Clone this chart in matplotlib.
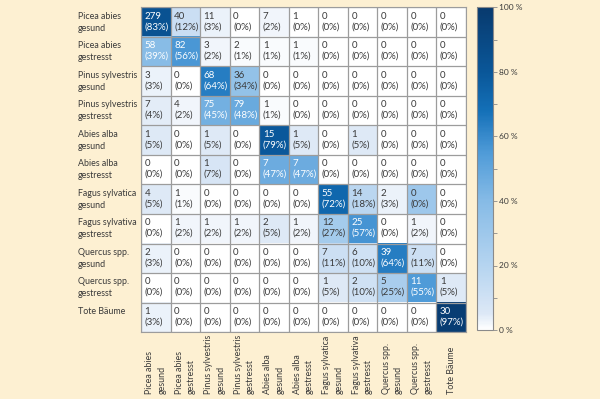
import numpy as np
import matplotlib
matplotlib.use("Agg")
import matplotlib.pyplot as plt
from matplotlib.colors import LinearSegmentedColormap
from matplotlib.transforms import blended_transform_factory


labels = [
    "Picea abies\ngesund", "Picea abies\ngestresst",
    "Pinus sylvestris\ngesund", "Pinus sylvestris\ngestresst",
    "Abies alba\ngesund", "Abies alba\ngestresst",
    "Fagus sylvatica\ngesund", "Fagus sylvativa\ngestresst",
    "Quercus spp.\ngesund", "Quercus spp.\ngestresst",
    "Tote Bäume",
]

# Anzahl je Zelle (Zeile = Referenz, Spalte = Klassifikation)
counts = [
    [279, 40, 11, 0, 7, 1, 0, 0, 0, 0, 0],
    [58, 82, 3, 2, 1, 1, 0, 0, 0, 0, 0],
    [3, 0, 68, 36, 0, 0, 0, 0, 0, 0, 0],
    [7, 4, 75, 79, 1, 0, 0, 0, 0, 0, 0],
    [1, 0, 1, 0, 15, 1, 0, 1, 0, 0, 0],
    [0, 0, 1, 0, 7, 7, 0, 0, 0, 0, 0],
    [4, 1, 0, 0, 0, 0, 55, 14, 2, 0, 0],
    [0, 1, 1, 1, 2, 1, 12, 25, 0, 1, 0],
    [2, 0, 0, 0, 0, 0, 7, 6, 39, 7, 0],
    [0, 0, 0, 0, 0, 0, 1, 2, 5, 11, 1],
    [1, 0, 0, 0, 0, 0, 0, 0, 0, 0, 30],
]

# Anteil in Prozent je Zeile
percent = [
    [83, 12, 3, 0, 2, 0, 0, 0, 0, 0, 0],
    [39, 56, 2, 1, 1, 1, 0, 0, 0, 0, 0],
    [3, 0, 64, 34, 0, 0, 0, 0, 0, 0, 0],
    [4, 2, 45, 48, 1, 0, 0, 0, 0, 0, 0],
    [5, 0, 5, 0, 79, 5, 0, 5, 0, 0, 0],
    [0, 0, 7, 0, 47, 47, 0, 0, 0, 0, 0],
    [5, 1, 0, 0, 0, 0, 72, 18, 3, 0, 0],
    [0, 2, 2, 2, 5, 2, 27, 57, 0, 2, 0],
    [3, 0, 0, 0, 0, 0, 11, 10, 64, 11, 0],
    [0, 0, 0, 0, 0, 0, 5, 10, 25, 55, 5],
    [3, 0, 0, 0, 0, 0, 0, 0, 0, 0, 97],
]

cbar_ticks = [0, 20, 40, 60, 80, 100]

bg = "#fdf0d2"
txt = "#3a3a3a"
plt.rcParams["font.family"] = ["Lato", "DejaVu Sans"]

shade = np.array(percent, dtype=float)
shade[6, 9] = 30  # im Original trotz 0 % eingefaerbt

cmap = LinearSegmentedColormap.from_list("bl", [
    (0.00, "#ffffff"), (0.05, "#dce8f6"), (0.10, "#cfe1f4"), (0.20, "#b5d4f0"),
    (0.40, "#86bbe6"), (0.55, "#4f9bd8"), (0.68, "#1470b8"),
    (0.80, "#0a5799"), (1.00, "#083a6e"),
])

n = len(labels)
fig = plt.figure(figsize=(6, 3.99), dpi=100, facecolor=bg)
W, H = 600, 399
ax = fig.add_axes([141 / W, 1 - 332 / H, 325 / W, 324.5 / H])
im = ax.imshow(shade, cmap=cmap, vmin=0, vmax=100, aspect="auto")

for k in range(n + 1):
    ax.axhline(k - 0.5, color="#9c9c9c", lw=0.9)
    ax.axvline(k - 0.5, color="#9c9c9c", lw=0.9)
for s in ax.spines.values():
    s.set_color("#9c9c9c")
ax.set_xticks([])
ax.set_yticks([])

for r in range(n):
    for c in range(n):
        col = "white" if percent[r][c] >= 37 else txt
        ax.text(c - 0.5 + 0.12, r - 0.5 + 0.14, f"{counts[r][c]}\n({percent[r][c]}%)",
                ha="left", va="top", fontsize=7, color=col, linespacing=1.25)

tr = blended_transform_factory(ax.transAxes, ax.transData)
for r, lab in enumerate(labels):
    ax.text((78 - 141) / 325, r - 0.5 + 0.14, lab, transform=tr, ha="left", va="top",
            fontsize=6.4, color=txt, linespacing=1.45)

tr2 = blended_transform_factory(ax.transData, fig.transFigure)
for c, lab in enumerate(labels):
    ax.text(c, 1 - 394 / H, lab, transform=tr2, rotation=90, rotation_mode="anchor",
            ha="left", va="center", fontsize=6.4, color=txt, linespacing=1.45)

cax = fig.add_axes([477.5 / W, 1 - 330 / H, 15 / W, 322.5 / H])
cb = fig.colorbar(im, cax=cax, ticks=cbar_ticks)
cb.outline.set_edgecolor("#8a8a8a")
cb.ax.set_yticklabels([f"{t} %" for t in cbar_ticks])
cb.ax.set_yticks([10, 30, 50, 70, 90], minor=True)
cb.ax.tick_params(which="both", length=3, width=0.6, color="#8a8a8a",
                  labelsize=6, labelcolor=txt, pad=2)

fig.savefig("out.png", dpi=100, facecolor=bg)
